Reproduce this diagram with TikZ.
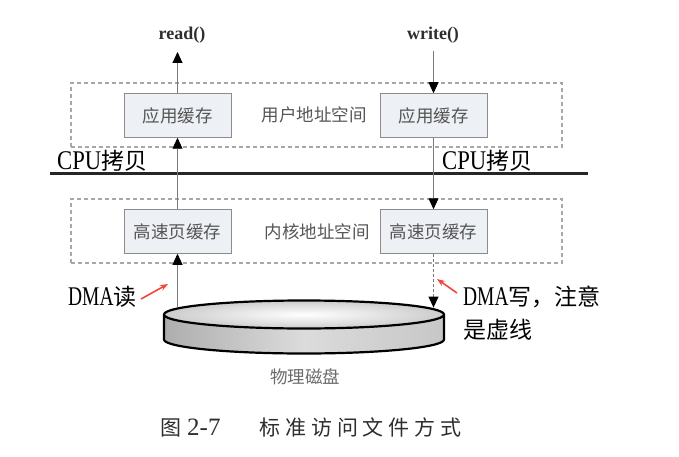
\documentclass[tikz,border=0pt]{standalone}
\usepackage{fontspec}
\setmainfont{Liberation Serif}
\newfontfamily\cjk{Noto Sans CJK SC}
\newfontfamily\latn[FakeStretch=0.84]{Liberation Serif}
\newfontfamily\latnn[FakeStretch=0.72]{Liberation Serif}
\usetikzlibrary{arrows.meta}
\definecolor{boxfill}{HTML}{EDF0F4}
\definecolor{boxline}{HTML}{8C8C8C}
\definecolor{labgray}{HTML}{555555}
\definecolor{dashgray}{HTML}{A8A8A8}
\definecolor{arrgray}{HTML}{7A7A7A}
\definecolor{annred}{HTML}{F0463C}
\definecolor{capgray}{HTML}{2E2E2E}
\newcommand\capch[1]{\makebox[25.75pt]{#1}}
\newcommand\latnbig[1]{{\latn\fontsize{27}{27}\selectfont #1}}
\newcommand\latnnarrow[1]{{\latnn\fontsize{27}{27}\selectfont #1}}
\newcommand\cjkbig[1]{{\cjk\fontsize{23}{23}\selectfont #1}}
\begin{document}
\begin{tikzpicture}[x=1pt,y=-1pt,
  buf/.style={draw=boxline, fill=boxfill, line width=1pt, minimum width=107pt,
    minimum height=43.5pt, inner sep=0pt, font=\cjk\fontsize{17.5}{17.5}\selectfont, text=labgray},
  region/.style={draw=dashgray, dash pattern=on 4pt off 3pt, line width=1.2pt,
    inner sep=0pt, minimum width=491pt, minimum height=64pt},
  zonelab/.style={font=\cjk\fontsize{17.5}{17.5}\selectfont, text=labgray, inner sep=0pt},
  call/.style={font=\bfseries\fontsize{18}{18}\selectfont, text=capgray, inner sep=0pt},
  flow/.style={draw=arrgray, line width=0.9pt, -{Triangle[width=10pt,length=11pt,color=black]}},
  dmaflow/.style={flow, dash pattern=on 3pt off 2pt},
  note/.style={inner sep=0pt, anchor=base west, text=black},
  redarrow/.style={draw=annred, line width=1.6pt, -{Stealth[length=8pt,width=6pt]}},
  diskline/.style={draw=black, line width=2.2pt}
]
\useasboundingbox (0,0) rectangle (679,457);

% address-space regions
\node[region] (userzone) at (316.5,115) {};
\node[region] (kernzone) at (316.5,231) {};

% buffers
\node[buf] (app1) at (177.5,115.5) {应用缓存};
\node[buf] (app2) at (433.5,115.5) {应用缓存};
\node[buf] (page1) at (177.5,231.5) {高速页缓存};
\node[buf] (page2) at (433.5,231.5) {高速页缓存};
\node[zonelab] (usertext) at (314,115) {用户地址空间};
\node[zonelab] (kerntext) at (317,232) {内核地址空间};

% calls
\node[call] (read) at (182,35) {read()};
\node[call] (write) at (433,35) {write()};
\coordinate (readtip) at (177.5,52);
\coordinate (writetop) at (433.5,51);

% CPU boundary line
\coordinate (cpuL) at (50,173);
\coordinate (cpuR) at (588,173);
\draw[line width=3pt, black!85] (cpuL) -- (cpuR);
\node[note] (cpu1) at (57,170) {\latnbig{CPU}\cjkbig{拷贝}};
\node[note] (cpu2) at (442,170) {\latnbig{CPU}\cjkbig{拷贝}};

% disk
\shade[left color=black!32, right color=black!22, middle color=black!14]
  (164,314.5) -- (164,339.5) arc[start angle=180,end angle=0,x radius=140,y radius=14]
  -- (444,314.5) arc[start angle=0,end angle=180,x radius=140,y radius=14] -- cycle;
\shade[inner color=white, outer color=black!20]
  (304,314.5) ellipse[x radius=140, y radius=14];
\draw[diskline] (164,314.5) -- (164,339.5) arc[start angle=180,end angle=0,x radius=140,y radius=14] -- (444,314.5);
\draw[diskline] (304,314.5) ellipse[x radius=140, y radius=14];
\coordinate (diskL) at (177.5,307.2);
\coordinate (diskR) at (433.5,307.6);
\node[zonelab, text=black!58] (disktext) at (305,377) {物理磁盘};

% flows
\draw[flow] (app1.north) -- (readtip);
\draw[flow] (page1.north) -- (app1.south);
\draw[flow] (diskL) -- (page1.south);
\draw[flow] (writetop) -- (app2.north);
\draw[flow] (app2.south) -- (page2.north);
\draw[dmaflow] (page2.south) -- (diskR);

% annotations
\node[note] (dmar) at (68,305) {\latnnarrow{DMA}\cjkbig{读}};
\node[note] (dmaw1) at (463,305) {\latnnarrow{DMA}\cjkbig{写，注意}};
\node[note] (dmaw2) at (463,338) {\cjkbig{是虚线}};
\coordinate (rl1) at (141,299);
\coordinate (rl2) at (168,284);
\coordinate (rr1) at (457,293);
\coordinate (rr2) at (437,279);
\draw[redarrow] (rl1) -- (rl2);
\draw[redarrow] (rr1) -- (rr2);

% caption
\node[inner sep=0pt, anchor=west, text=capgray] (caption) at (160,427)
  {{\cjk\fontsize{21}{21}\selectfont 图}\hspace{6pt}{\fontsize{25}{25}\selectfont 2-7}\hspace{37pt}{\cjk\fontsize{21}{21}\selectfont\capch{标}\capch{准}\capch{访}\capch{问}\capch{文}\capch{件}\capch{方}\capch{式}}};
\end{tikzpicture}
\end{document}
